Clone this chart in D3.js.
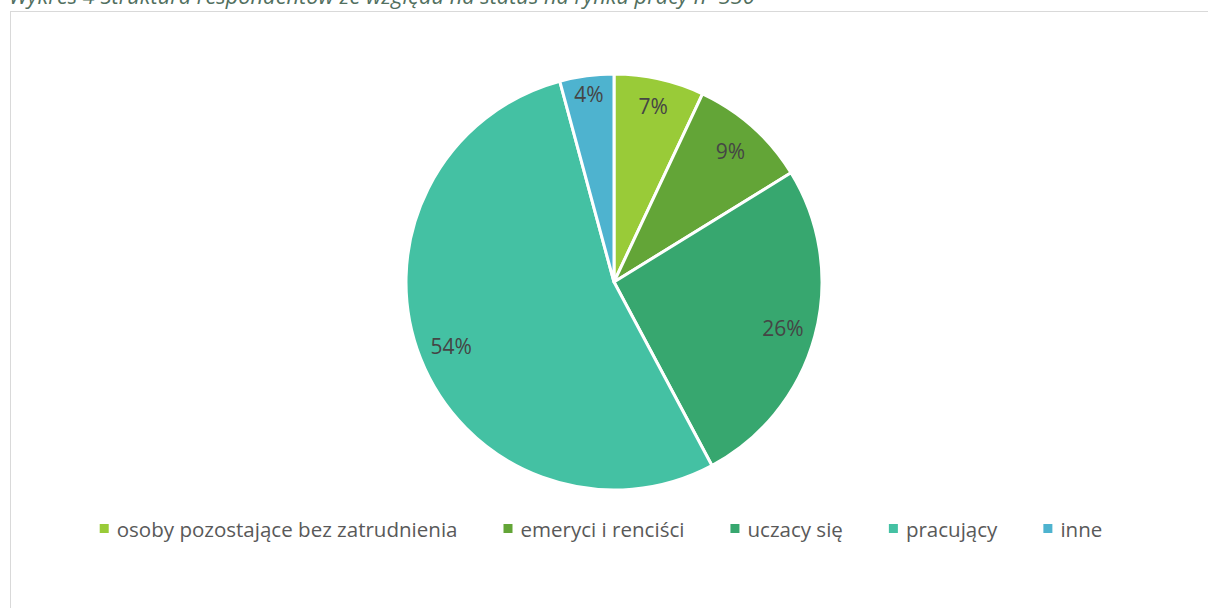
<!DOCTYPE html>
<html>
<head>
<meta charset="utf-8">
<script src="https://cdn.jsdelivr.net/npm/d3@7"></script>
<style>
  html, body { margin: 0; padding: 0; background: #fff; }
  svg { display: block; }
</style>
</head>
<body>
<svg id="chart" width="1208" height="608"></svg>
<script>
const title = "Wykres 4 Struktura respondentów ze względu na status na rynku pracy n=330";
const categories = ["osoby pozostające bez zatrudnienia", "emeryci i renciści", "uczacy się", "pracujący", "inne"];
const values = [7.0, 9.2, 26.0, 53.6, 4.2];
const colors = ["#99CB38", "#63A537", "#37A76F", "#44C1A3", "#4EB3CF"];

const svg = d3.select("#chart");
const font = "'Open Sans', 'Noto Sans', sans-serif";

// chart frame
svg.append("rect")
  .attr("x", 10.5).attr("y", 11.5)
  .attr("width", 1300).attr("height", 700)
  .attr("fill", "#fff").attr("stroke", "#d9d9d9").attr("stroke-width", 1);

// title (partially cut off at top, as in the reference)
const t = svg.append("text")
  .attr("x", 9).attr("y", 4)
  .attr("font-family", font)
  .attr("font-style", "italic")
  .attr("font-size", 18)
  .attr("fill", "#52705f")
  .text(title);
const tw = t.node().getComputedTextLength();
t.attr("font-size", 18 * 746 / tw);

// pie
const cx = 614, cy = 282, R = 208;
const pie = d3.pie().sort(null).value(d => d)(values);
const arc = d3.arc().innerRadius(0).outerRadius(R);
const g = svg.append("g").attr("transform", `translate(${cx},${cy})`);

g.selectAll("path.slice")
  .data(pie)
  .join("path")
  .attr("class", "slice")
  .attr("d", arc)
  .attr("fill", (d, i) => colors[i])
  .attr("stroke", "#fff")
  .attr("stroke-width", 3)
  .attr("stroke-linejoin", "round");

function labelR(v) {
  if (v < 5) return 190;
  if (v < 8) return 180;
  return 175;
}
g.selectAll("text.lbl")
  .data(pie)
  .join("text")
  .attr("class", "lbl")
  .attr("transform", d => {
    const a = (d.startAngle + d.endAngle) / 2;
    const r = labelR(d.value);
    return `translate(${r * Math.sin(a)},${-r * Math.cos(a)})`;
  })
  .attr("text-anchor", "middle")
  .attr("dominant-baseline", "central")
  .attr("font-family", font)
  .attr("font-size", 21)
  .attr("fill", "#454545")
  .text(d => Math.round(d.value) + "%");

// legend
const legend = svg.append("g");
const items = legend.selectAll("g.item")
  .data(categories)
  .join("g")
  .attr("class", "item");
items.append("rect")
  .attr("width", 9).attr("height", 9)
  .attr("y", -5)
  .attr("fill", (d, i) => colors[i]);
const texts = items.append("text")
  .attr("x", 17)
  .attr("dominant-baseline", "central")
  .attr("font-family", font)
  .attr("font-size", 19)
  .attr("fill", "#595959")
  .text(d => d);

const w0 = texts.nodes()[0].getComputedTextLength();
const fs = 19 * 341 / w0;
texts.attr("font-size", fs);

let x = 0;
const gap = 46;
const positions = [];
texts.each(function() {
  positions.push(x);
  x += 17 + this.getComputedTextLength() + gap;
});
const totalW = x - gap;
const startX = 601 - totalW / 2;
items.attr("transform", (d, i) => `translate(${startX + positions[i]},529)`);
</script>
</body>
</html>
